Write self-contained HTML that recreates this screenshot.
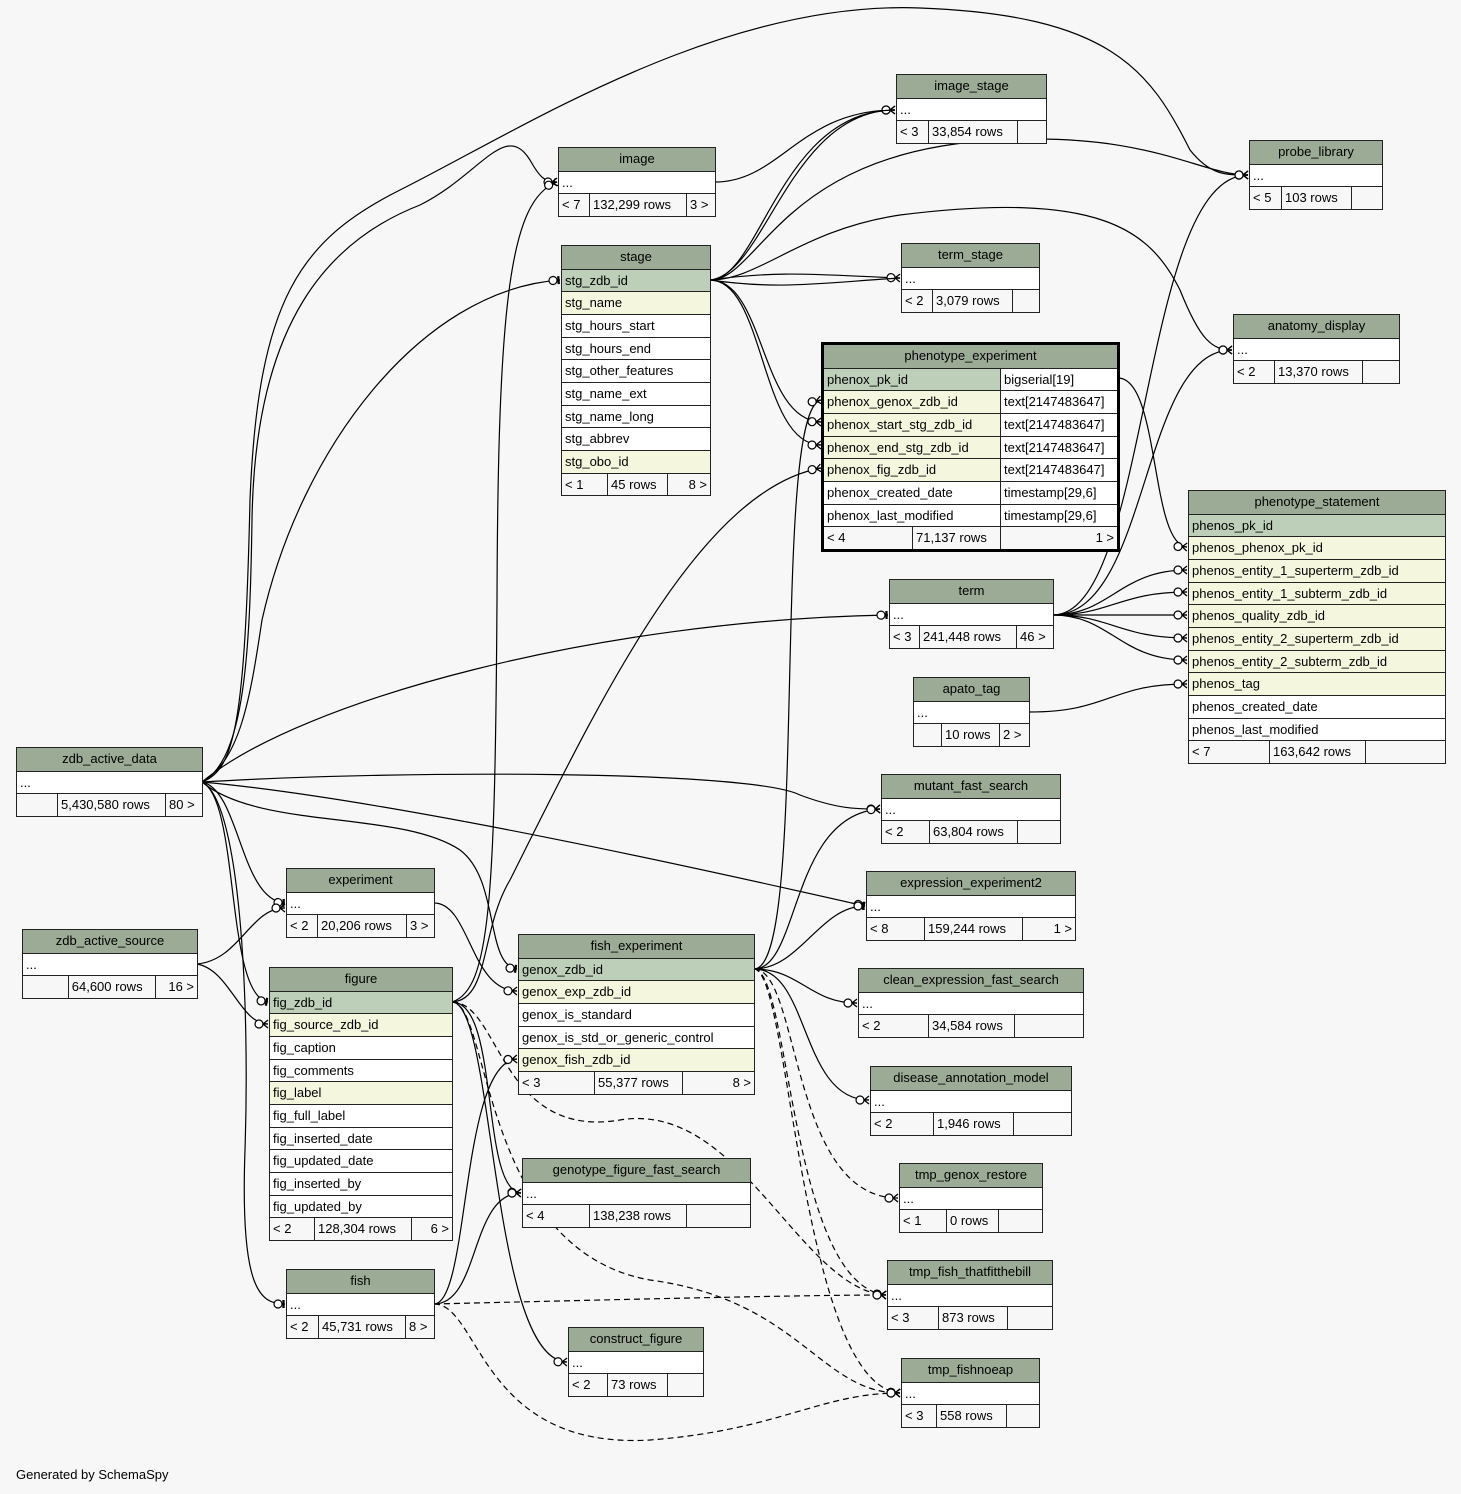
<!DOCTYPE html>
<html><head><meta charset="utf-8"><style>
body{margin:0;background:#f7f7f7;width:1461px;height:1494px;position:relative;overflow:hidden;font-family:"Liberation Sans",sans-serif;font-size:13px;}
svg{position:absolute;left:0;top:0}
.t{position:absolute;border:1px solid #222;background:#fff;box-sizing:border-box}
.t.b{border:3px solid #000}
.h{height:22.5px;line-height:22px;text-align:center;background:#9bab96;border-bottom:1px solid #222}
.r{height:21.7px;line-height:21px;padding-left:3px;border-bottom:1px solid #222;white-space:nowrap;overflow:hidden}
.k{background:#bdcfb9}.f{background:#f4f7de}
.ft{height:21.7px;line-height:21px;display:flex;background:#f7f7f7}
.ft div{border-left:1px solid #222;padding:0 3px;box-sizing:border-box;white-space:nowrap}
.ft div:first-child{border-left:none}
.ft .rt{text-align:right}
.two{display:flex;padding:0}.two span{display:block;padding-left:3px;box-sizing:border-box}.two span+span{border-left:1px solid #222;background:#fff}
</style></head><body>
<svg width="1461" height="1494" viewBox="0 0 1461 1494">
<defs>
<marker id="c" markerUnits="userSpaceOnUse" viewBox="-20 -10 22 20" refX="0" refY="0" markerWidth="22" markerHeight="20" orient="auto" overflow="visible">
<path d="M-5,0L0,-4M-5,0L0,0M-5,0L0,4" stroke="#000" stroke-width="1.3" fill="none"/>
<circle cx="-9" cy="0" r="4" fill="#fff" stroke="#000" stroke-width="1.2"/>
</marker>
<marker id="o" markerUnits="userSpaceOnUse" viewBox="-20 -10 22 20" refX="0" refY="0" markerWidth="22" markerHeight="20" orient="auto" overflow="visible">
<path d="M-2,-4L-2,4M-1,-4L-1,4" stroke="#000" stroke-width="1.3" fill="none"/>
<circle cx="-7" cy="0" r="4" fill="#fff" stroke="#000" stroke-width="1.2"/>
</marker>
</defs>
<g fill="none" stroke="#000" stroke-width="1.2">
<path marker-end="url(#c)" d="M202,782 C235,770 245,720 250,500 C258,300 300,240 400,190 C520,130 720,0 920,8 C1110,15 1150,70 1190,150 C1210,175 1225,175 1248,175"/>
<path marker-end="url(#c)" d="M202,782 C245,760 250,650 252,520 C255,320 330,240 420,205 C480,175 505,120 530,160 C540,178 545,182 557,182"/>
<path marker-end="url(#o)" d="M202,782 C240,760 250,700 262,620 C300,450 420,290 560,280"/>
<path marker-end="url(#o)" d="M202,782 C300,700 600,620 888,615"/>
<path marker-end="url(#c)" d="M202,782 C400,770 750,770 800,795 C840,810 860,809 880,809"/>
<path marker-end="url(#o)" d="M202,782 C400,800 750,880 865,906"/>
<path marker-end="url(#o)" d="M202,782 C260,830 400,810 460,850 C500,880 485,965 517,969"/>
<path marker-end="url(#o)" d="M202,782 C240,790 240,900 285,903"/>
<path marker-end="url(#o)" d="M202,782 C240,800 225,995 268,1002"/>
<path marker-end="url(#o)" d="M202,782 C240,800 250,1000 245,1150 C240,1290 260,1304 285,1304"/>
<path marker-end="url(#c)" d="M197,964 C240,960 250,908 285,908"/>
<path marker-end="url(#c)" d="M197,964 C230,970 240,1024 268,1024"/>
<path marker-end="url(#c)" d="M715,182 C780,182 800,110 895,110"/>
<path marker-end="url(#c)" d="M710,280 C765,275 790,110 895,110"/>
<path d="M710,280 C760,280 780,110 895,110"/>
<path marker-end="url(#c)" d="M710,280 C760,280 780,150 1000,140 C1150,132 1200,175 1248,175"/>
<path marker-end="url(#c)" d="M710,280 C780,270 820,275 900,278"/>
<path d="M710,280 C780,290 820,283 900,278"/>
<path marker-end="url(#c)" d="M710,280 C760,280 800,230 900,215 C1100,190 1150,230 1180,290 C1200,340 1212,350 1232,350"/>
<path marker-end="url(#c)" d="M710,280 C765,280 760,420 821,422"/>
<path marker-end="url(#c)" d="M710,280 C765,280 760,445 821,445"/>
<path marker-end="url(#c)" d="M1118,378 C1160,378 1150,545 1187,547"/>
<path marker-end="url(#c)" d="M1053,615 C1150,615 1140,175 1248,175"/>
<path marker-end="url(#c)" d="M1053,615 C1150,615 1140,350 1232,350"/>
<path marker-end="url(#c)" d="M1053,615 C1110,615 1120,570 1187,570"/>
<path marker-end="url(#c)" d="M1053,615 C1110,615 1120,592 1187,592"/>
<path marker-end="url(#c)" d="M1053,615 C1110,615 1120,615 1187,615"/>
<path marker-end="url(#c)" d="M1053,615 C1110,615 1120,638 1187,638"/>
<path marker-end="url(#c)" d="M1053,615 C1110,615 1120,660 1187,660"/>
<path marker-end="url(#c)" d="M1029,712 C1110,712 1110,684 1187,684"/>
<path marker-end="url(#c)" d="M754,969 C810,969 770,410 821,400"/>
<path marker-end="url(#c)" d="M754,969 C800,969 790,815 880,809"/>
<path marker-end="url(#o)" d="M754,969 C800,969 820,906 865,906"/>
<path marker-end="url(#c)" d="M754,969 C800,969 810,1003 857,1003"/>
<path marker-end="url(#c)" d="M754,969 C810,969 800,1100 869,1100"/>
<path marker-end="url(#c)" d="M452,1002 C490,990 495,900 497,600 C498,300 510,200 557,182"/>
<path marker-end="url(#c)" d="M452,1002 C490,1000 480,930 510,880 C600,700 700,490 821,468"/>
<path marker-end="url(#c)" d="M452,1002 C500,1002 480,1190 521,1193"/>
<path marker-end="url(#c)" d="M452,1002 C495,1002 490,1360 567,1362"/>
<path marker-end="url(#c)" d="M434,1304 C470,1304 460,1062 517,1059"/>
<path marker-end="url(#c)" d="M434,1304 C480,1304 470,1193 521,1193"/>
<path marker-end="url(#c)" d="M434,903 C470,903 470,990 517,991"/>
<g stroke-dasharray="6,4">
<path marker-end="url(#c)" d="M754,969 C800,969 790,1198 898,1198"/>
<path marker-end="url(#c)" d="M754,969 C790,969 790,1285 886,1295"/>
<path marker-end="url(#c)" d="M754,969 C790,969 800,1385 900,1393"/>
<path marker-end="url(#c)" d="M452,1002 C500,1002 500,1140 620,1120 C740,1100 800,1290 886,1295"/>
<path marker-end="url(#c)" d="M452,1002 C490,1002 480,1250 650,1280 C800,1300 820,1393 900,1393"/>
<path marker-end="url(#c)" d="M434,1304 C600,1300 800,1295 886,1295"/>
<path marker-end="url(#c)" d="M434,1304 C480,1304 480,1450 650,1440 C780,1430 820,1393 900,1393"/>
</g>
</g>
</svg>

<div class="t" style="left:16px;top:747px;width:187px"><div class="h">zdb_active_data</div><div class="r">...</div><div class="ft"><div style="width:40px"></div><div style="width:108px">5,430,580 rows</div><div>80 &gt;</div></div></div>
<div class="t" style="left:22px;top:929px;width:176px"><div class="h">zdb_active_source</div><div class="r">...</div><div class="ft"><div style="width:45px"></div><div style="width:88px">64,600 rows</div><div class="rt" style="width:42px">16 &gt;</div></div></div>
<div class="t" style="left:558px;top:147px;width:158px"><div class="h">image</div><div class="r">...</div><div class="ft"><div style="width:30px">&lt; 7</div><div style="width:97px">132,299 rows</div><div>3 &gt;</div></div></div>
<div class="t" style="left:561px;top:245px;width:150px"><div class="h">stage</div><div class="r k">stg_zdb_id</div><div class="r f">stg_name</div><div class="r">stg_hours_start</div><div class="r">stg_hours_end</div><div class="r">stg_other_features</div><div class="r">stg_name_ext</div><div class="r">stg_name_long</div><div class="r">stg_abbrev</div><div class="r f">stg_obo_id</div><div class="ft"><div style="width:45px">&lt; 1</div><div style="width:60px">45 rows</div><div class="rt" style="width:43px">8 &gt;</div></div></div>
<div class="t" style="left:896px;top:74px;width:151px"><div class="h">image_stage</div><div class="r">...</div><div class="ft"><div style="width:31px">&lt; 3</div><div style="width:89px">33,854 rows</div><div></div></div></div>
<div class="t" style="left:1249px;top:140px;width:134px"><div class="h">probe_library</div><div class="r">...</div><div class="ft"><div style="width:31px">&lt; 5</div><div style="width:70px">103 rows</div><div></div></div></div>
<div class="t" style="left:901px;top:243px;width:139px"><div class="h">term_stage</div><div class="r">...</div><div class="ft"><div style="width:30px">&lt; 2</div><div style="width:80px">3,079 rows</div><div></div></div></div>
<div class="t" style="left:1233px;top:314px;width:167px"><div class="h">anatomy_display</div><div class="r">...</div><div class="ft"><div style="width:40px">&lt; 2</div><div style="width:88px">13,370 rows</div><div></div></div></div>
<div class="t b" style="left:821px;top:342px;width:299px"><div class="h">phenotype_experiment</div>
<div class="r two"><span class="k" style="width:176px">phenox_pk_id</span><span>bigserial[19]</span></div>
<div class="r two"><span class="f" style="width:176px">phenox_genox_zdb_id</span><span>text[2147483647]</span></div>
<div class="r two"><span class="f" style="width:176px">phenox_start_stg_zdb_id</span><span>text[2147483647]</span></div>
<div class="r two"><span class="f" style="width:176px">phenox_end_stg_zdb_id</span><span>text[2147483647]</span></div>
<div class="r two"><span class="f" style="width:176px">phenox_fig_zdb_id</span><span>text[2147483647]</span></div>
<div class="r two"><span style="width:176px">phenox_created_date</span><span>timestamp[29,6]</span></div>
<div class="r two"><span style="width:176px">phenox_last_modified</span><span>timestamp[29,6]</span></div>
<div class="ft"><div style="width:88px">&lt; 4</div><div style="width:88px">71,137 rows</div><div class="rt" style="flex:1">1 &gt;</div></div></div>
<div class="t" style="left:1188px;top:490px;width:258px"><div class="h">phenotype_statement</div><div class="r k">phenos_pk_id</div><div class="r f">phenos_phenox_pk_id</div><div class="r f">phenos_entity_1_superterm_zdb_id</div><div class="r f">phenos_entity_1_subterm_zdb_id</div><div class="r f">phenos_quality_zdb_id</div><div class="r f">phenos_entity_2_superterm_zdb_id</div><div class="r f">phenos_entity_2_subterm_zdb_id</div><div class="r f">phenos_tag</div><div class="r">phenos_created_date</div><div class="r">phenos_last_modified</div><div class="ft"><div style="width:80px">&lt; 7</div><div style="width:96px">163,642 rows</div><div></div></div></div>
<div class="t" style="left:889px;top:579px;width:165px"><div class="h">term</div><div class="r">...</div><div class="ft"><div style="width:29px">&lt; 3</div><div style="width:97px">241,448 rows</div><div>46 &gt;</div></div></div>
<div class="t" style="left:913px;top:677px;width:117px"><div class="h">apato_tag</div><div class="r">...</div><div class="ft"><div style="width:27px"></div><div style="width:58px">10 rows</div><div>2 &gt;</div></div></div>
<div class="t" style="left:881px;top:774px;width:180px"><div class="h">mutant_fast_search</div><div class="r">...</div><div class="ft"><div style="width:47px">&lt; 2</div><div style="width:88px">63,804 rows</div><div></div></div></div>
<div class="t" style="left:866px;top:871px;width:210px"><div class="h">expression_experiment2</div><div class="r">...</div><div class="ft"><div style="width:57px">&lt; 8</div><div style="width:98px">159,244 rows</div><div class="rt" style="flex:1">1 &gt;</div></div></div>
<div class="t" style="left:858px;top:968px;width:226px"><div class="h">clean_expression_fast_search</div><div class="r">...</div><div class="ft"><div style="width:69px">&lt; 2</div><div style="width:86px">34,584 rows</div><div></div></div></div>
<div class="t" style="left:870px;top:1066px;width:202px"><div class="h">disease_annotation_model</div><div class="r">...</div><div class="ft"><div style="width:62px">&lt; 2</div><div style="width:80px">1,946 rows</div><div></div></div></div>
<div class="t" style="left:899px;top:1163px;width:144px"><div class="h">tmp_genox_restore</div><div class="r">...</div><div class="ft"><div style="width:46px">&lt; 1</div><div style="width:52px">0 rows</div><div></div></div></div>
<div class="t" style="left:887px;top:1260px;width:166px"><div class="h">tmp_fish_thatfitthebill</div><div class="r">...</div><div class="ft"><div style="width:50px">&lt; 3</div><div style="width:69px">873 rows</div><div></div></div></div>
<div class="t" style="left:901px;top:1358px;width:139px"><div class="h">tmp_fishnoeap</div><div class="r">...</div><div class="ft"><div style="width:34px">&lt; 3</div><div style="width:70px">558 rows</div><div></div></div></div>
<div class="t" style="left:286px;top:868px;width:149px"><div class="h">experiment</div><div class="r">...</div><div class="ft"><div style="width:30px">&lt; 2</div><div style="width:89px">20,206 rows</div><div>3 &gt;</div></div></div>
<div class="t" style="left:269px;top:967px;width:184px"><div class="h">figure</div><div class="r k">fig_zdb_id</div><div class="r f">fig_source_zdb_id</div><div class="r">fig_caption</div><div class="r">fig_comments</div><div class="r f">fig_label</div><div class="r">fig_full_label</div><div class="r">fig_inserted_date</div><div class="r">fig_updated_date</div><div class="r">fig_inserted_by</div><div class="r">fig_updated_by</div><div class="ft"><div style="width:44px">&lt; 2</div><div style="width:97px">128,304 rows</div><div class="rt" style="flex:1">6 &gt;</div></div></div>
<div class="t" style="left:286px;top:1269px;width:149px"><div class="h">fish</div><div class="r">...</div><div class="ft"><div style="width:31px">&lt; 2</div><div style="width:87px">45,731 rows</div><div>8 &gt;</div></div></div>
<div class="t" style="left:518px;top:934px;width:237px"><div class="h">fish_experiment</div><div class="r k">genox_zdb_id</div><div class="r f">genox_exp_zdb_id</div><div class="r">genox_is_standard</div><div class="r">genox_is_std_or_generic_control</div><div class="r f">genox_fish_zdb_id</div><div class="ft"><div style="width:75px">&lt; 3</div><div style="width:88px">55,377 rows</div><div class="rt" style="flex:1">8 &gt;</div></div></div>
<div class="t" style="left:522px;top:1158px;width:229px"><div class="h">genotype_figure_fast_search</div><div class="r">...</div><div class="ft"><div style="width:66px">&lt; 4</div><div style="width:97px">138,238 rows</div><div></div></div></div>
<div class="t" style="left:568px;top:1327px;width:136px"><div class="h">construct_figure</div><div class="r">...</div><div class="ft"><div style="width:38px">&lt; 2</div><div style="width:60px">73 rows</div><div></div></div></div>
<div style="position:absolute;left:16px;top:1467px">Generated by SchemaSpy</div>
</body></html>
